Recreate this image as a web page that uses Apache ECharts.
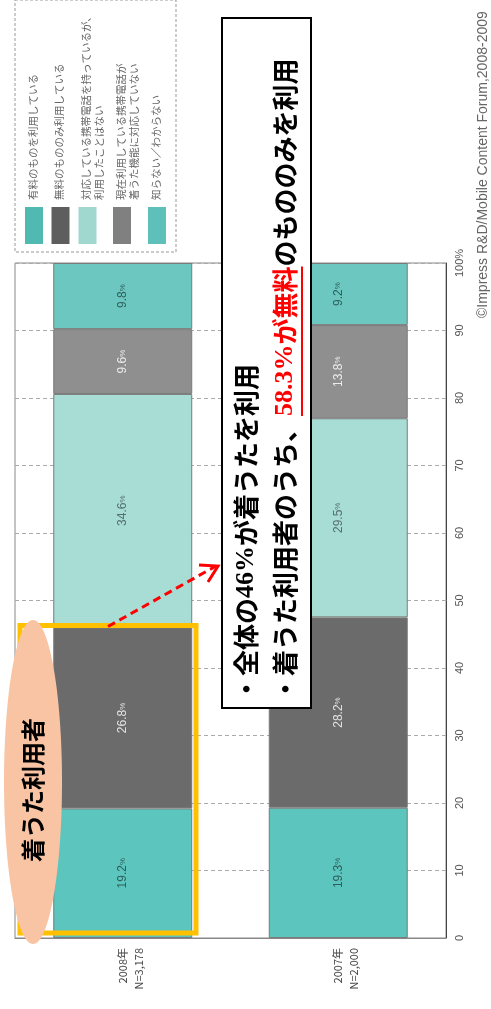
<!DOCTYPE html>
<html>
<head>
<meta charset="utf-8">
<script src="https://cdn.jsdelivr.net/npm/echarts@6/dist/echarts.min.js"></script>
<style>
  html, body { margin: 0; padding: 0; background: #fff; }
  #main { width: 491px; height: 1009px; }
</style>
</head>
<body>
<div id="main"></div>
<script>
// カテゴリ（回転したグラフなので左から 2008, 2007）
var categories = ['2008年\nN=3,178', '2007年\nN=2,000'];
var seriesNames = [
  '有料のものを利用している',
  '無料のもののみ利用している',
  '対応している携帯電話を持っているが、\n利用したことはない',
  '現在利用している携帯電話が\n着うた機能に対応していない',
  '知らない／わからない'
];
var paid = [19.2, 19.3];
var freeOnly = [26.8, 28.2];
var neverUsed = [34.6, 29.5];
var notSupported = [9.6, 13.8];
var unknown = [9.8, 9.2];

var barColors = ['#5cc5bd', '#6b6b6b', '#a8ddd6', '#8f8f8f', '#6cc7c0'];
var swatchColors = ['#50b9b1', '#5e5e5e', '#a0d8d0', '#808080', '#5ec0b8'];
var labelColors = ['#2f5f5c', '#e2e2e2', '#55706d', '#ececec', '#2f5f5c'];

var dataSets = [paid, freeOnly, neverUsed, notSupported, unknown];
var jp = '"Noto Sans CJK JP"';

var myChart = echarts.init(document.getElementById('main'));

var option = {
  animation: false,
  grid: {
    left: 15, right: 45, top: 263, bottom: 71,
    show: true, borderColor: '#888', borderWidth: 1
  },
  xAxis: {
    type: 'category',
    data: categories,
    axisTick: { show: false },
    axisLine: { lineStyle: { color: '#888' } },
    axisLabel: {
      rotate: 90, margin: 10, fontSize: 11, lineHeight: 16,
      color: '#444', fontFamily: jp,
      // 1行目をバーの中心に合わせるため空行を足す
      formatter: function (v) { return ' \n' + v; }
    }
  },
  yAxis: {
    type: 'value',
    position: 'right',
    min: 0, max: 100, interval: 10,
    axisLine: { show: true, lineStyle: { color: '#444' } },
    axisTick: { show: false },
    splitLine: { lineStyle: { color: '#aaa', type: [4, 3] } },
    axisLabel: {
      rotate: 90, margin: 8, fontSize: 11, color: '#555',
      fontFamily: 'Liberation Sans',
      formatter: function (v) { return v === 100 ? '100%' : v; }
    }
  },
  series: seriesNames.map(function (name, i) {
    return {
      name: name,
      type: 'bar',
      stack: 'total',
      barWidth: '64.5%',
      data: dataSets[i],
      itemStyle: { color: barColors[i], borderColor: '#7a7a7a', borderWidth: 1 },
      label: {
        show: true, position: 'inside', rotate: 90,
        formatter: function (p) { return '{v|' + p.value.toFixed(1) + '}{p|%}'; },
        rich: {
          v: { fontSize: 12, color: labelColors[i], fontFamily: 'Liberation Sans' },
          p: { fontSize: 8, color: labelColors[i], fontFamily: 'Liberation Sans' }
        }
      }
    };
  })
};
myChart.setOption(option);

// ---- 注記（凡例・吹き出しなど） ----
var R = Math.PI / 2;
var g = [];

// 凡例
var legendX = [34, 60.5, 87.5, 122, 157];
g.push({
  type: 'rect', z: 100,
  shape: { x: 15, y: 0, width: 161, height: 252 },
  style: { fill: 'none', stroke: '#999', lineWidth: 1, lineDash: [3, 2] }
});
seriesNames.forEach(function (name, i) {
  g.push({
    type: 'rect', z: 100,
    shape: { x: legendX[i] - 9, y: 207, width: 18, height: 37 },
    style: { fill: swatchColors[i] }
  });
  g.push({
    type: 'text', z: 100, x: legendX[i] - 7.5, y: 200, rotation: R,
    style: {
      text: name, align: 'left', verticalAlign: 'top',
      fontSize: 10.5, lineHeight: 13, fontFamily: jp, fill: '#666'
    }
  });
});

// 着うた利用者の枠（0〜46%）
var top46 = myChart.convertToPixel({ gridIndex: 0 }, [0, paid[0] + freeOnly[0]])[1];
g.push({
  type: 'rect', z: 100,
  shape: { x: 20, y: top46 - 2, width: 176, height: 933 - top46 + 2 },
  style: { fill: 'none', stroke: '#ffc000', lineWidth: 5 }
});
g.push({
  type: 'ellipse', z: 101,
  shape: { cx: 33, cy: 782, rx: 29, ry: 162 },
  style: { fill: '#f9c4a3' }
});
g.push({
  type: 'text', z: 102, x: 33, y: 790, rotation: R,
  style: {
    text: '着うた利用者', align: 'center', verticalAlign: 'middle',
    font: 'bold 24px ' + jp, fill: '#000'
  }
});

// 矢印
g.push({
  type: 'line', z: 103,
  shape: { x1: 108, y1: top46 - 1, x2: 216, y2: 566 },
  style: { stroke: '#ff0000', lineWidth: 3, lineDash: [8, 5] }
});
g.push({
  type: 'polyline', z: 103,
  shape: { points: [[199, 565], [218, 566], [208, 582]] },
  style: { stroke: '#ff0000', lineWidth: 3, fill: 'none' }
});

// 吹き出し
var fs = 26;
g.push({
  type: 'rect', z: 104,
  shape: { x: 222, y: 18, width: 89, height: 690 },
  style: { fill: '#fff', stroke: '#000', lineWidth: 2 }
});
var richBox = {
  b: { fontSize: fs, fontWeight: 'bold', fontFamily: jp, fill: '#000' },
  s: { fontSize: fs, fontWeight: 'bold', fontFamily: '"Liberation Serif"', fill: '#000' },
  rs: { fontSize: fs, fontWeight: 'bold', fontFamily: '"Liberation Serif"', fill: '#ff0000' },
  r: { fontSize: fs, fontWeight: 'bold', fontFamily: jp, fill: '#ff0000' }
};
var startY = 702;
g.push({
  type: 'text', z: 105, x: 246, y: startY, rotation: R,
  style: { text: '{b|・全体の}{s|46%}{b|が着うたを利用}', align: 'left', verticalAlign: 'middle', rich: richBox }
});
g.push({
  type: 'text', z: 105, x: 285, y: startY, rotation: R,
  style: { text: '{b|・着うた利用者のうち、}{rs|58.3%}{r|が無料}{b|のもののみを利用}', align: 'left', verticalAlign: 'middle', rich: richBox }
});
// 下線（赤字部分）
var ctx = document.createElement('canvas').getContext('2d');
function tw(t, f) { ctx.font = f; return ctx.measureText(t).width; }
var w0 = tw('・着うた利用者のうち、', 'bold ' + fs + 'px ' + jp);
var w1 = tw('58.3%', 'bold ' + fs + 'px "Liberation Serif"') + tw('が無料', 'bold ' + fs + 'px ' + jp);
g.push({
  type: 'line', z: 105,
  shape: { x1: 302, y1: startY - w0, x2: 302, y2: startY - w0 - w1 },
  style: { stroke: '#ff0000', lineWidth: 2 }
});

// 出典
g.push({
  type: 'text', z: 100, x: 483, y: 318, rotation: R,
  style: {
    text: '©Impress R&D/Mobile Content Forum,2008-2009', align: 'left', verticalAlign: 'middle',
    fontSize: 14, fontFamily: '"Liberation Sans"', fill: '#666'
  }
});

myChart.setOption({ graphic: { elements: g } });
</script>
</body>
</html>
